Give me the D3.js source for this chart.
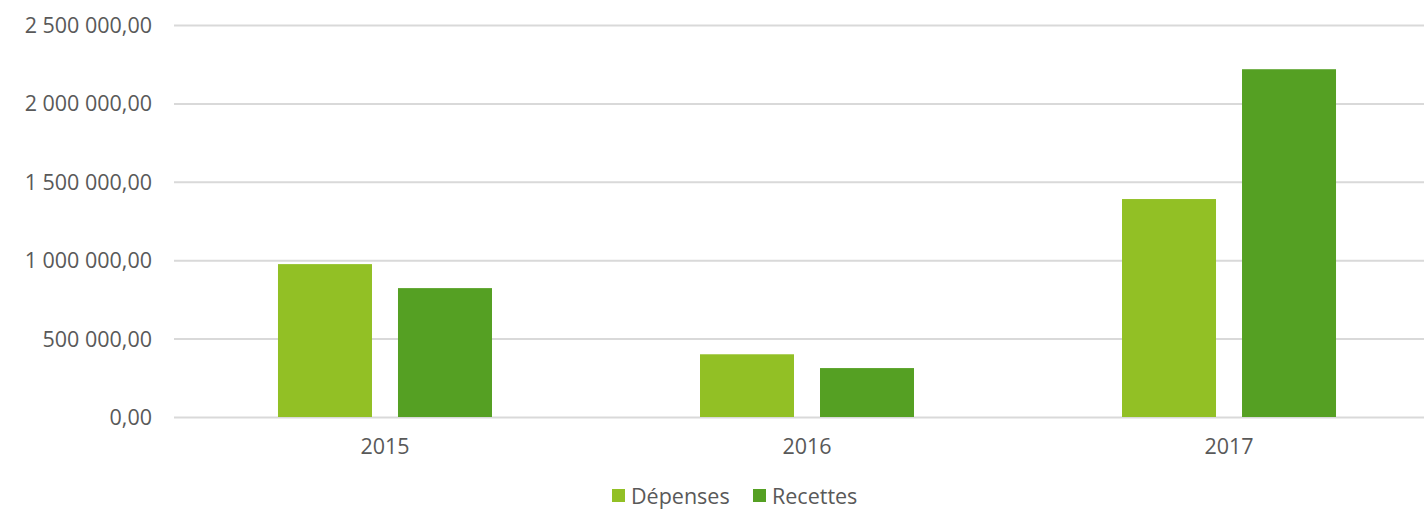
<!DOCTYPE html>
<html><head><meta charset="utf-8">
<script src="https://cdn.jsdelivr.net/npm/d3@7"></script>
<style>body{margin:0;background:#fff}svg{display:block}text{font-family:"Open Sans",sans-serif;fill:#595959}</style>
</head><body><svg id="c" width="1424" height="512"></svg>
<script>
const categories = ["2015","2016","2017"];
const seriesNames = ["Dépenses","Recettes"];
const depenses = [975000, 400000, 1390000];
const recettes = [822000, 312000, 2218000];
const yTicks = [0, 500000, 1000000, 1500000, 2000000, 2500000];
const colors = ["#92c025","#55a023"];

const svg = d3.select("#c");
const y = d3.scaleLinear().domain([0,2500000]).range([417,25]);
const x0 = d3.scaleBand().domain(categories).range([174,1440]).paddingInner(0.4929).paddingOuter(0.2464);
const x1 = d3.scaleBand().domain(seriesNames).range([0,x0.bandwidth()]).paddingInner(0.2167).paddingOuter(0);
const fmt = v => { const s = d3.format(",.2f")(v); return s.replace(/,/g," ").replace(".",","); };

const grid = svg.append("g")
  .call(d3.axisLeft(y).tickValues(yTicks).tickSize(-(1440-174)).tickFormat(fmt).tickPadding(22))
  .attr("transform","translate(174,0)");
grid.select(".domain").remove();
grid.selectAll(".tick line").attr("stroke","#d9d9d9").attr("stroke-width",2);
grid.selectAll(".tick text").attr("font-size",21.5).attr("fill","#595959").attr("dy","0.35em");

const data = categories.map((c,i)=>({cat:c, vals:[depenses[i], recettes[i]]}));
const g = svg.append("g").selectAll("g").data(data).join("g").attr("transform",d=>`translate(${x0(d.cat)},0)`);
g.selectAll("rect").data(d=>d.vals.map((v,j)=>({s:seriesNames[j],v,j}))).join("rect")
  .attr("x",d=>x1(d.s)).attr("width",x1.bandwidth())
  .attr("y",d=>y(d.v)).attr("height",d=>y(0)-y(d.v)).attr("fill",d=>colors[d.j]);

const xa = svg.append("g").attr("transform","translate(0,417)").call(d3.axisBottom(x0).tickSize(0).tickPadding(22));
xa.select(".domain").remove();
xa.selectAll("text").attr("font-size",21.5).attr("fill","#595959");

const leg = svg.append("g");
const legX = [612, 753];
seriesNames.forEach((s,i)=>{
  leg.append("rect").attr("x",legX[i]).attr("y",489).attr("width",13).attr("height",13).attr("fill",colors[i]);
  leg.append("text").attr("x",legX[i]+19).attr("y",496).attr("dy","0.35em").attr("font-size",21.5).text(s);
});
</script></body></html>
